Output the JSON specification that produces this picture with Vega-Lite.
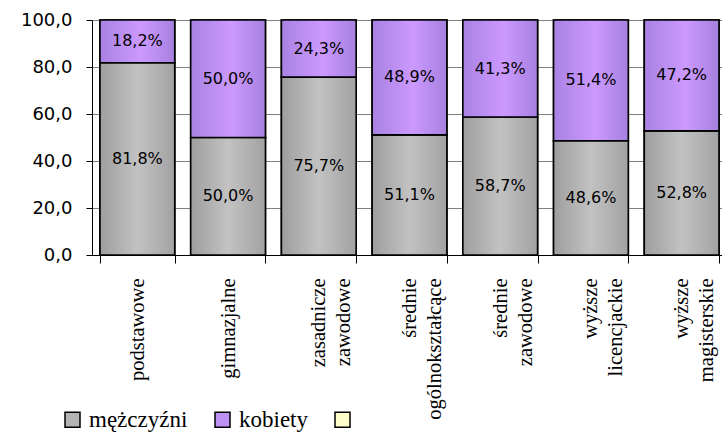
{
  "$schema": "https://vega.github.io/schema/vega-lite/v6.json",
  "width": 635,
  "height": 235,
  "autosize": {"type": "none"},
  "padding": {"left": 92, "top": 20, "right": 0, "bottom": 178},
  "background": "white",
  "config": {"view": {"stroke": null}},
  "data": {
    "values": [
      {"cat": "podstawowe", "plec": "mężczyźni", "value": 81.8},
      {"cat": "podstawowe", "plec": "kobiety", "value": 18.2},
      {"cat": "gimnazjalne", "plec": "mężczyźni", "value": 50.0},
      {"cat": "gimnazjalne", "plec": "kobiety", "value": 50.0},
      {"cat": "zasadnicze\nzawodowe", "plec": "mężczyźni", "value": 75.7},
      {"cat": "zasadnicze\nzawodowe", "plec": "kobiety", "value": 24.3},
      {"cat": "średnie\nogólnokształcące", "plec": "mężczyźni", "value": 51.1},
      {"cat": "średnie\nogólnokształcące", "plec": "kobiety", "value": 48.9},
      {"cat": "średnie\nzawodowe", "plec": "mężczyźni", "value": 58.7},
      {"cat": "średnie\nzawodowe", "plec": "kobiety", "value": 41.3},
      {"cat": "wyższe\nlicencjackie", "plec": "mężczyźni", "value": 48.6},
      {"cat": "wyższe\nlicencjackie", "plec": "kobiety", "value": 51.4},
      {"cat": "wyższe\nmagisterskie", "plec": "mężczyźni", "value": 52.8},
      {"cat": "wyższe\nmagisterskie", "plec": "kobiety", "value": 47.2}
    ]
  },
  "encoding": {
    "x": {
      "field": "cat",
      "type": "nominal",
      "sort": null,
      "scale": {"paddingInner": 0.176, "paddingOuter": 0.088},
      "axis": {
        "title": null,
        "labelAngle": -90,
        "labelExpr": "split(datum.label, '\\n')",
        "labelFont": "Liberation Serif, Times New Roman, serif",
        "labelFontSize": 20.5,
        "labelLineHeight": 25,
        "labelColor": "black",
        "labelPadding": 15,
        "tickBand": "extent",
        "tickSize": 8,
        "tickColor": "black",
        "domainColor": "black",
        "grid": false
      }
    },
    "y": {
      "field": "value",
      "type": "quantitative",
      "stack": "zero",
      "scale": {"domain": [0, 100], "nice": false},
      "axis": {
        "title": null,
        "values": [0, 20, 40, 60, 80, 100],
        "labelExpr": "replace(format(datum.value, '.1f'), '.', ',')",
        "labelFont": "DejaVu Sans",
        "labelFontSize": 18,
        "labelColor": "black",
        "labelPadding": 14,
        "tickSize": 6,
        "tickColor": "black",
        "domainColor": "black",
        "grid": true,
        "gridColor": "#808080",
        "gridWidth": 1
      }
    },
    "order": {"field": "plec", "sort": "descending"}
  },
  "layer": [
    {
      "mark": {"type": "bar", "stroke": "black", "strokeWidth": 1.6},
      "encoding": {
        "color": {
          "field": "plec",
          "type": "nominal",
          "scale": {
            "domain": ["mężczyźni", "kobiety", " "],
            "range": ["#B4B4B4", "#BE92F5", "#FFFFCC"]
          },
          "legend": {
            "title": null,
            "orient": "none",
            "legendX": -31,
            "legendY": 388,
            "direction": "horizontal",
            "padding": 0,
            "symbolType": "square",
            "symbolSize": 225,
            "symbolStrokeColor": "black",
            "symbolStrokeWidth": 1.5,
            "symbolOpacity": 1,
            "labelFont": "Liberation Serif, Times New Roman, serif",
            "labelFontSize": 23,
            "labelColor": "black",
            "labelOffset": 5,
            "columnPadding": 23
          }
        }
      }
    },
    {
      "mark": {"type": "bar", "stroke": "black", "strokeWidth": 1.6},
      "encoding": {
        "fill": {
          "condition": {
            "test": "datum.plec === 'kobiety'",
            "value": {"gradient": "linear", "x1": 0, "y1": 0, "x2": 1, "y2": 0, "stops": [
              {"offset": 0, "color": "#A982E3"},
              {"offset": 0.55, "color": "#CC99FF"},
              {"offset": 1, "color": "#A680DF"}
            ]}
          },
          "value": {"gradient": "linear", "x1": 0, "y1": 0, "x2": 1, "y2": 0, "stops": [
            {"offset": 0, "color": "#9E9E9E"},
            {"offset": 0.5, "color": "#C2C2C2"},
            {"offset": 1, "color": "#A2A2A2"}
          ]}
        }
      }
    },
    {
      "transform": [
        {"calculate": "replace(format(datum.value, '.1f'), '.', ',') + '%'", "as": "lab"}
      ],
      "mark": {"type": "text", "font": "DejaVu Sans", "fontSize": 16, "color": "black"},
      "encoding": {
        "y": {"field": "value", "type": "quantitative", "stack": "zero", "bandPosition": 0.5},
        "text": {"field": "lab", "type": "nominal"}
      }
    }
  ]
}
